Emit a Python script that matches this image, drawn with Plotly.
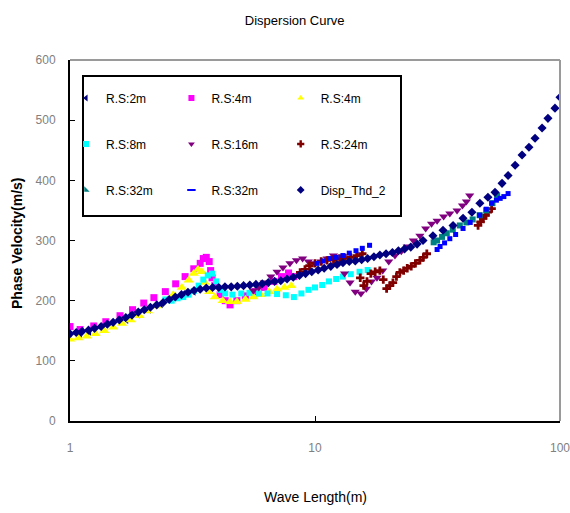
import plotly.graph_objects as go

# ---------------- data ----------------
rs2_x = [1.0, 1.1, 1.2, 1.35, 1.5, 1.7, 1.9, 2.1, 2.35, 2.6, 2.9, 3.2]
rs2_y = [142, 145, 148, 154, 160, 168, 177, 185, 194, 203, 211, 215]

rs4m_x = [1.0, 1.1, 1.25, 1.4, 1.6, 1.8, 2.0, 2.2, 2.45, 2.7, 2.95, 3.2, 3.4, 3.5, 3.6,
          3.7, 3.75, 3.8, 3.9, 4.1, 4.3, 4.5, 4.8, 5.2, 5.7, 6.2, 6.8, 7.3, 7.8, 8.2]
rs4m_y = [157, 152, 158, 165, 175, 185, 196, 205, 215, 228, 240, 253, 262, 270, 272,
          265, 250, 238, 225, 210, 200, 193, 200, 208, 215, 222, 232, 240, 246, 240]

rs4y_x = [1.0, 1.08, 1.17, 1.27, 1.38, 1.5, 1.63, 1.77, 1.92, 2.08, 2.25, 2.44, 2.64, 2.86,
          3.05, 3.2, 3.33, 3.45, 3.55, 3.7, 3.9, 4.2, 4.5, 4.8, 5.2, 5.6, 6.0, 6.5, 7.0, 7.5, 8.0]
rs4y_y = [136, 138, 141, 145, 150, 156, 162, 168, 175, 183, 191, 200, 210, 222,
          234, 245, 252, 248, 230, 215, 206, 200, 198, 198, 202, 206, 210, 215, 219, 222, 225]

rs8_x = [2.45, 2.6, 2.75, 2.9, 3.05, 3.2, 3.35, 3.5, 3.65, 3.8, 3.95, 4.1, 4.3, 4.6, 5.0, 5.4,
         5.9, 6.4, 7.0, 7.6, 8.2, 8.8, 9.4, 10.0, 10.7, 11.4, 12.2, 13.0, 14.0, 15.2, 16.4]
rs8_y = [202, 200, 204, 206, 210, 216, 225, 235, 242, 245, 232, 218, 212, 210, 212, 213,
         212, 212, 211, 209, 206, 212, 218, 222, 226, 232, 236, 240, 244, 248, 251]

rs16_x = [5.6, 5.9, 6.2, 6.6, 7.0, 7.4, 7.9, 8.4, 8.9, 9.4, 10.0, 10.6, 11.2, 11.9, 12.5,
          13.2, 13.9, 14.6, 15.4, 16.2, 17.0, 17.9, 18.9, 20.0, 21.2, 22.5, 23.8, 25.2,
          26.8, 28.3, 29.9, 31.5, 33.5, 35.5, 38.0, 40.0, 41.5, 42.8]
rs16_y = [217, 222, 230, 240, 248, 255, 262, 267, 270, 265, 262, 265, 270, 275, 262,
          245, 230, 215, 212, 220, 232, 238, 250, 265, 275, 282, 290, 300,
          308, 320, 328, 333, 340, 345, 350, 358, 365, 375]

rs24_x = [8.7, 9.1, 9.5, 10.0, 10.6, 11.2, 11.9, 12.6, 13.3, 14.0, 14.8, 15.6, 15.3, 15.8,
          16.3, 16.9, 17.6, 18.4, 19.0, 19.6, 20.2, 20.8, 21.5, 22.2, 23.0, 23.8, 24.7,
          25.7, 26.8, 27.7, 28.6, 46.3, 47.4, 48.6, 49.7, 50.8, 52.6]
rs24_y = [247, 252, 258, 262, 265, 267, 268, 270, 271, 272, 275, 278, 238, 225,
          232, 245, 248, 250, 235, 220, 225, 230, 240, 247, 250, 254, 257,
          262, 267, 272, 278, 325, 331, 337, 342, 347, 353]

rs32t_x = [30.5, 31.5, 33.0, 34.5, 36.5, 39.0, 41.5, 44.0, 47.0, 50.0, 53.0, 55.4]
rs32t_y = [297, 300, 306, 312, 318, 325, 330, 335, 342, 350, 362, 375]

rs32b_x = [10.2, 10.8, 11.5, 12.2, 13.0, 13.8, 14.7, 15.6, 16.7, 31.5, 32.4, 33.8, 35.5,
           37.5, 40.2, 43.0, 47.0, 50.0, 52.6, 55.0, 57.0, 59.0, 61.4]
rs32b_y = [262, 266, 270, 272, 275, 279, 283, 287, 292, 285, 290, 296, 303,
           310, 320, 330, 342, 352, 362, 367, 370, 373, 378]

disp_x = [1.00, 1.06, 1.12, 1.19, 1.26, 1.34, 1.42, 1.50, 1.59, 1.69, 1.79, 1.90, 2.01, 2.13,
          2.26, 2.40, 2.54, 2.69, 2.85, 3.03, 3.21, 3.40, 3.60, 3.82, 4.05, 4.29, 4.55, 4.82,
          5.11, 5.42, 5.74, 6.09, 6.45, 6.84, 7.25, 7.69, 8.15, 8.64, 9.15, 9.70, 10.3, 10.9,
          11.6, 12.3, 13.0, 13.8, 14.6, 15.5, 16.4, 17.4, 18.4, 19.5, 20.7, 21.9, 23.2, 24.6,
          26.1, 27.6, 30.3, 33.3, 36.6, 40.2, 43.7, 47.1, 50.8, 54.3, 58.0, 61.4, 65.6, 70.0,
          74.7, 79.1, 84.5, 89.3, 95.4, 100.0]
disp_y = [145, 147, 149, 151, 154, 157, 161, 164, 168, 172, 176, 181, 185, 189,
          193, 197, 202, 206, 210, 214, 217, 219, 221, 222, 222, 223, 223, 224,
          225, 226, 227, 228, 230, 232, 233, 236, 239, 242, 245, 248, 251, 254,
          257, 260, 263, 265, 266, 268, 270, 273, 276, 278, 280, 283, 286, 289,
          294, 300, 308, 317, 325, 337, 347, 362, 372, 380, 395, 408, 425, 442,
          455, 470, 487, 503, 520, 538]

x_ticks = [1, 10, 100]
x_tick_text = ["1", "10", "100"]

# ---------------- figure ----------------
series = [
    ("R.S:2m", rs2_x, rs2_y, "#000080", "triangle-left", 7, "legend"),
    ("R.S:4m", rs4m_x, rs4m_y, "#FF00FF", "square", 7, "legend2"),
    ("R.S:4m", rs4y_x, rs4y_y, "#FFFF00", "triangle-up", 9, "legend3"),
    ("R.S:8m", rs8_x, rs8_y, "#00FFFF", "square", 6, "legend"),
    ("R.S:16m", rs16_x, rs16_y, "#800080", "triangle-down", 8, "legend2"),
    ("R.S:24m", rs24_x, rs24_y, "#800000", "cross", 7, "legend3"),
    ("R.S:32m", rs32t_x, rs32t_y, "#008080", "square", 6, "legend"),
    ("R.S:32m", rs32b_x, rs32b_y, "#0000FF", "square", 5, "legend2"),
    ("Disp_Thd_2", disp_x, disp_y, "#000080", "diamond", 7, "legend3"),
]
legend_symbols = ["triangle-left", "square", "triangle-up", "square", "triangle-down",
                  "cross", "triangle-sw", "line-ew-open", "diamond"]

fig = go.Figure()
for i, (name, xs, ys, col, sym, size, leg) in enumerate(series):
    fig.add_trace(go.Scatter(
        x=xs, y=ys, mode="markers", name=name, showlegend=False,
        marker=dict(color=col, symbol=sym, size=size, line=dict(width=0)),
    ))
for i, (name, xs, ys, col, sym, size, leg) in enumerate(series):
    lsym = legend_symbols[i]
    fig.add_trace(go.Scatter(
        x=[None], y=[None], mode="markers", name=name, showlegend=True,
        marker=dict(color=col, symbol=lsym, size=6,
                    line=dict(width=2, color=col) if "open" in lsym else dict(width=0)),
        legend=leg, legendgroup=f"g{i}",
    ))

FONT = "Liberation Sans, Arial, sans-serif"
leg_common = dict(
    bgcolor="rgba(0,0,0,0)", borderwidth=0, tracegroupgap=27,
    font=dict(family=FONT, size=12, color="#000000"),
    orientation="v", xanchor="left", yanchor="top", itemsizing="trace",
    traceorder="grouped", itemwidth=30,
)

fig.update_layout(
    width=570, height=513,
    margin=dict(l=70, r=10, t=60, b=92, autoexpand=False),
    paper_bgcolor="white", plot_bgcolor="white",
    font=dict(family=FONT, size=11, color="#000000"),
    showlegend=True,
    title=dict(text="Dispersion Curve", x=0.517, xanchor="center",
               y=1 - 20 / 513, yanchor="middle",
               font=dict(family=FONT, size=13, color="#000000")),
    legend=dict(x=-0.008, y=0.935, **leg_common),
    legend2=dict(x=0.207, y=0.935, **leg_common),
    legend3=dict(x=0.430, y=0.935, **leg_common),
    xaxis=dict(type="log", range=[0, 2], tickvals=x_ticks, ticktext=x_tick_text,
               showgrid=False, zeroline=False, showline=True, linecolor="#000000",
               linewidth=2, ticks="inside", ticklen=5, tickcolor="#000000",
               tickfont=dict(family=FONT, size=12, color="#808080"),
               ticklabelstandoff=15, automargin=False, ticklabeloverflow="allow"),
    yaxis=dict(range=[0, 600], dtick=100, showgrid=False, zeroline=False,
               showline=True, linecolor="#000000", linewidth=2, ticks="inside",
               ticklen=5, tickcolor="#000000",
               tickfont=dict(family=FONT, size=12, color="#808080"),
               ticklabelstandoff=10, automargin=False, ticklabeloverflow="allow"),
    annotations=[
        dict(text="<b>Phase Velocity(m/s)</b>", xref="paper", yref="paper",
             x=(17 - 70) / 490, y=(421 - 243) / 361, textangle=-90, showarrow=False,
             xanchor="center", yanchor="middle",
             font=dict(family=FONT, size=14, color="#000000")),
        dict(text="Wave Length(m)", xref="paper", yref="paper",
             x=0.5, y=(421 - 497) / 361, showarrow=False,
             xanchor="center", yanchor="middle",
             font=dict(family=FONT, size=14, color="#000000")),
    ],
    shapes=[
        dict(type="line", xref="paper", yref="paper", x0=0, x1=1, y0=1, y1=1,
             line=dict(color="#9a9a9a", width=2)),
        dict(type="line", xref="paper", yref="paper", x0=1, x1=1, y0=0, y1=1,
             line=dict(color="#9a9a9a", width=2)),
        dict(type="rect", xref="paper", yref="paper",
             x0=(83 - 70) / 490, x1=(401 - 70) / 490,
             y0=(421 - 216) / 361, y1=(421 - 76) / 361,
             line=dict(color="#000000", width=2), fillcolor="rgba(0,0,0,0)"),
    ],
)

fig.write_html("out.html")
